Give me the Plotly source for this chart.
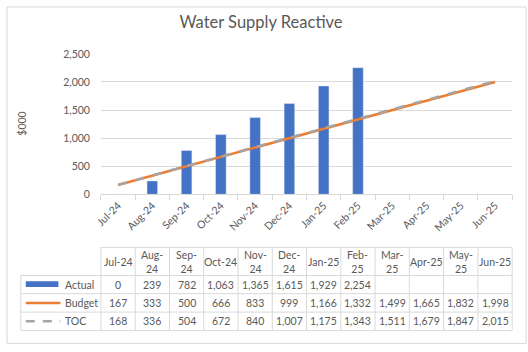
import plotly.graph_objects as go

months = ["Jul-24", "Aug-24", "Sep-24", "Oct-24", "Nov-24", "Dec-24",
          "Jan-25", "Feb-25", "Mar-25", "Apr-25", "May-25", "Jun-25"]
header_labels = ["Jul-24", "Aug-<br>24", "Sep-<br>24", "Oct-24", "Nov-<br>24", "Dec-<br>24",
                 "Jan-25", "Feb-<br>25", "Mar-<br>25", "Apr-25", "May-<br>25", "Jun-25"]
actual = [0, 239, 782, 1063, 1365, 1615, 1929, 2254, None, None, None, None]
budget = [167, 333, 500, 666, 833, 999, 1166, 1332, 1499, 1665, 1832, 1998]
toc = [168, 336, 504, 672, 840, 1007, 1175, 1343, 1511, 1679, 1847, 2015]
series_names = ["Actual", "Budget", "TOC"]

W, H = 528, 352
def px(x):
    return x / W
def py(y):
    return 1 - y / H

FONT = "Lato"
GRAY = "#595959"
GRID = "#d9d9d9"
BLUE = "#4472C4"
ORANGE = "#ED7D31"
TOCC = "#A5A5A5"

# layout geometry (pixels)
PLOT_L, PLOT_R = 96, 512
PLOT_T, PLOT_B = 49.5, 195
TAB_L = 15
TAB_HEAD_T, TAB_HEAD_B = 250, 279
ROW_EDGES = [279, 297.8, 316.9, 336]
COL_W = (PLOT_R - PLOT_L) / len(months)

fig = go.Figure()
fig.add_trace(go.Bar(x=months, y=actual, name="Actual", marker_color=BLUE,
                     width=0.31, showlegend=False))
fig.add_trace(go.Scatter(x=months, y=budget, name="Budget", mode="lines",
                         line=dict(color=ORANGE, width=2.5), showlegend=False))
fig.add_trace(go.Scatter(x=months, y=toc, name="TOC", mode="lines",
                         line=dict(color=TOCC, width=2.5, dash="dash"), showlegend=False))

def fmt(v):
    return "" if v is None else f"{v:,}"

shapes = []
annotations = []
tfont = dict(family=FONT, size=10.5, color=GRAY)

# data table grid
col_edges = [PLOT_L + COL_W * k for k in range(len(months) + 1)]
shapes.append(dict(type="line", xref="paper", yref="paper",
                   x0=px(PLOT_L), x1=px(PLOT_R), y0=py(TAB_HEAD_T), y1=py(TAB_HEAD_T),
                   line=dict(color=GRID, width=1)))
for ye in ROW_EDGES:
    shapes.append(dict(type="line", xref="paper", yref="paper",
                       x0=px(TAB_L), x1=px(PLOT_R), y0=py(ye), y1=py(ye),
                       line=dict(color=GRID, width=1)))
shapes.append(dict(type="line", xref="paper", yref="paper",
                   x0=px(TAB_L), x1=px(TAB_L), y0=py(ROW_EDGES[0]), y1=py(ROW_EDGES[-1]),
                   line=dict(color=GRID, width=1)))
for xe in col_edges:
    shapes.append(dict(type="line", xref="paper", yref="paper",
                       x0=px(xe), x1=px(xe), y0=py(TAB_HEAD_T), y1=py(ROW_EDGES[-1]),
                       line=dict(color=GRID, width=1)))

# header text
for i, lab in enumerate(header_labels):
    cx = PLOT_L + COL_W * (i + 0.5)
    annotations.append(dict(text=lab, xref="paper", yref="paper",
                            x=px(cx), y=py((TAB_HEAD_T + TAB_HEAD_B) / 2 + 0.5),
                            xanchor="center", yanchor="middle", showarrow=False,
                            font=tfont))

# cell values
for r, series in enumerate([actual, budget, toc]):
    cy = (ROW_EDGES[r] + ROW_EDGES[r + 1]) / 2
    for i, v in enumerate(series):
        cx = PLOT_L + COL_W * (i + 0.5)
        annotations.append(dict(text=fmt(v), xref="paper", yref="paper",
                                x=px(cx), y=py(cy), xanchor="center", yanchor="middle",
                                showarrow=False, font=tfont))
    annotations.append(dict(text=series_names[r], xref="paper", yref="paper",
                            x=px(58), y=py(cy), xanchor="left", yanchor="middle",
                            showarrow=False, font=tfont))

# legend keys in the table
shapes.append(dict(type="rect", xref="paper", yref="paper",
                   x0=px(20), x1=px(53), y0=py(291), y1=py(285),
                   fillcolor=BLUE, line=dict(width=0)))
shapes.append(dict(type="line", xref="paper", yref="paper",
                   x0=px(20), x1=px(55), y0=py(307.4), y1=py(307.4),
                   line=dict(color=ORANGE, width=2.5)))
shapes.append(dict(type="line", xref="paper", yref="paper",
                   x0=px(20), x1=px(55), y0=py(326.5), y1=py(326.5),
                   line=dict(color=TOCC, width=2.5, dash="9px,8px")))
# outer chart border
shapes.append(dict(type="rect", xref="paper", yref="paper",
                   x0=px(1), x1=px(526), y0=py(349.5), y1=py(1),
                   line=dict(color=GRID, width=1)))

annotations.append(dict(text="$000", xref="paper", yref="paper",
                        x=px(16), y=py(122), textangle=-90,
                        xanchor="center", yanchor="middle", showarrow=False,
                        font=tfont))

fig.update_layout(
    width=W, height=H,
    margin=dict(l=0, r=0, t=0, b=0),
    paper_bgcolor="white", plot_bgcolor="white",
    title=dict(text="Water Supply Reactive", x=px(261), y=py(22),
               xanchor="center", yanchor="middle",
               font=dict(family=FONT, size=16.5, color=GRAY)),
    font=dict(family=FONT, color=GRAY),
    xaxis=dict(domain=[px(PLOT_L), px(PLOT_R)], type="category",
               tickangle=-45, tickson="boundaries", ticks="outside",
               ticklen=5, tickcolor=GRID, showline=True, linecolor=GRID,
               linewidth=1, showgrid=False, anchor="y",
               tickfont=dict(family=FONT, size=10.5, color=GRAY)),
    yaxis=dict(domain=[py(PLOT_B), py(PLOT_T)], range=[0, 2500], dtick=500,
               tickformat=",d", showgrid=True, gridcolor=GRID, gridwidth=1,
               zeroline=False, showline=False, ticks="",
               ticklabelstandoff=10,
               tickfont=dict(family=FONT, size=10.5, color=GRAY)),
    shapes=shapes,
    annotations=annotations,
    showlegend=False,
)

fig.write_html("out.html")
